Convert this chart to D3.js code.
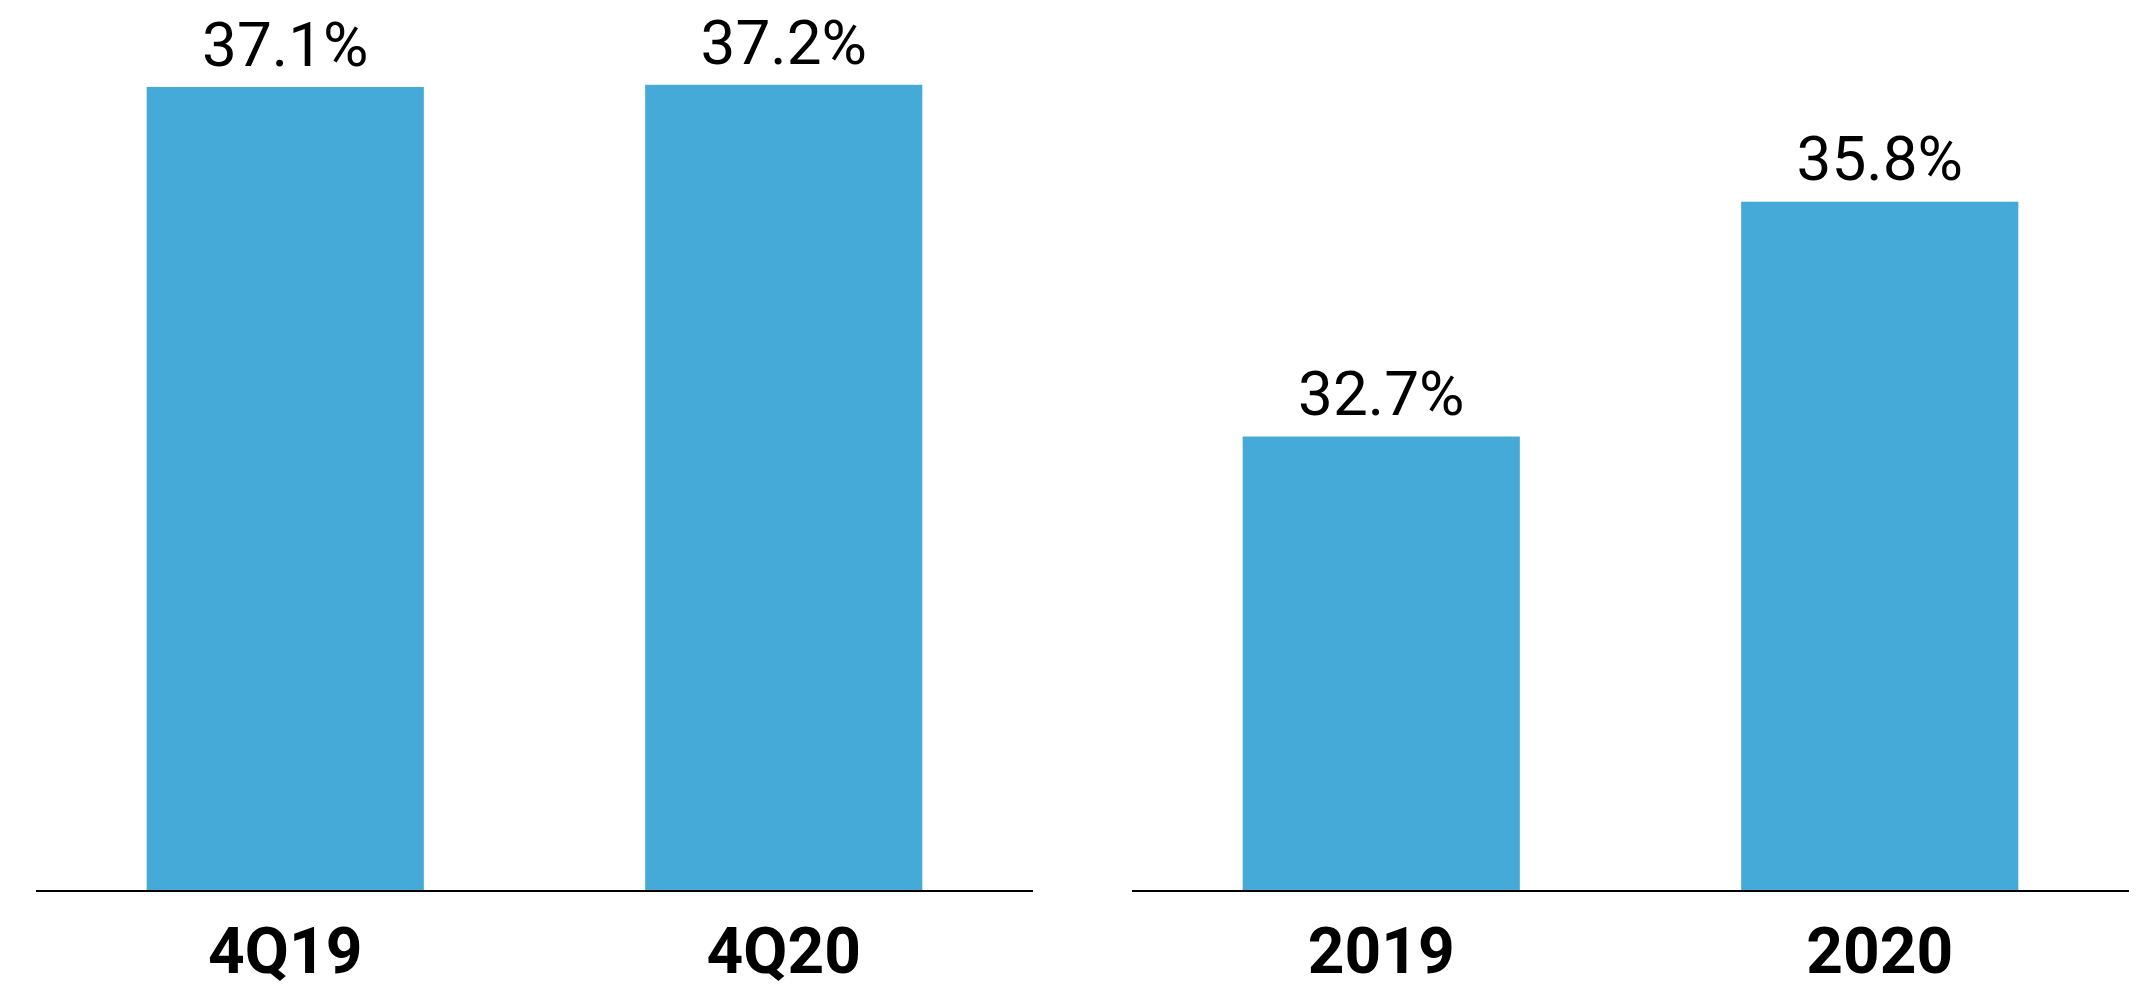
<!DOCTYPE html>
<html>
<head>
<meta charset="utf-8">
<script src="https://cdn.jsdelivr.net/npm/d3@7"></script>
<style>
  html, body { margin: 0; padding: 0; background: #fff; }
  svg { display: block; }
</style>
</head>
<body>
<svg id="chart" width="2142" height="985"></svg>
<script>
// Quarterly comparison (left panel)
const quarterCategories = ["4Q19", "4Q20"];
const quarterValues = [37.1, 37.2];

// Full-year comparison (right panel)
const yearCategories = ["2019", "2020"];
const yearValues = [32.7, 35.8];

const svg = d3.select("#chart");
const baseline = 891;
const barColor = "#45aad8";

const panels = [
  { categories: quarterCategories, values: quarterValues, x0: 36, x1: 1033, domain: [0, 37.2], top: 84.8 },
  { categories: yearCategories, values: yearValues, x0: 1132, x1: 2129, domain: [26.7, 35.8], top: 201.7 }
];

panels.forEach(p => {
  const data = p.categories.map((c, i) => ({ cat: c, val: p.values[i] }));
  const x = d3.scaleBand()
    .domain(p.categories)
    .range([p.x0, p.x1])
    .paddingInner(0.444)
    .paddingOuter(0.222);
  const y = d3.scaleLinear().domain(p.domain).range([baseline, p.top]);

  const g = svg.append("g");

  g.selectAll("rect.bar")
    .data(data)
    .join("rect")
    .attr("class", "bar")
    .attr("x", d => x(d.cat))
    .attr("width", x.bandwidth())
    .attr("y", d => y(d.val))
    .attr("height", d => baseline - y(d.val))
    .attr("fill", barColor);

  g.selectAll("text.value")
    .data(data)
    .join("text")
    .attr("class", "value")
    .attr("x", d => x(d.cat) + x.bandwidth() / 2)
    .attr("y", d => y(d.val) - 21.3)
    .attr("text-anchor", "middle")
    .attr("font-family", "Roboto, sans-serif")
    .attr("font-size", 62)
    .attr("fill", "#000")
    .text(d => d.val.toFixed(1) + "%");

  // Category axis along the baseline
  const axis = g.append("g")
    .attr("transform", `translate(0,${baseline})`)
    .call(d3.axisBottom(x).tickSize(0).tickPadding(82));
  axis.select(".domain")
    .attr("stroke", "#000")
    .attr("stroke-width", 2)
    .attr("d", `M${p.x0},0H${p.x1}`);
  axis.selectAll(".tick text")
    .attr("font-family", "Roboto, sans-serif")
    .attr("font-weight", "bold")
    .attr("font-size", 64)
    .attr("fill", "#000")
    .attr("dy", 0);
});
</script>
</body>
</html>
